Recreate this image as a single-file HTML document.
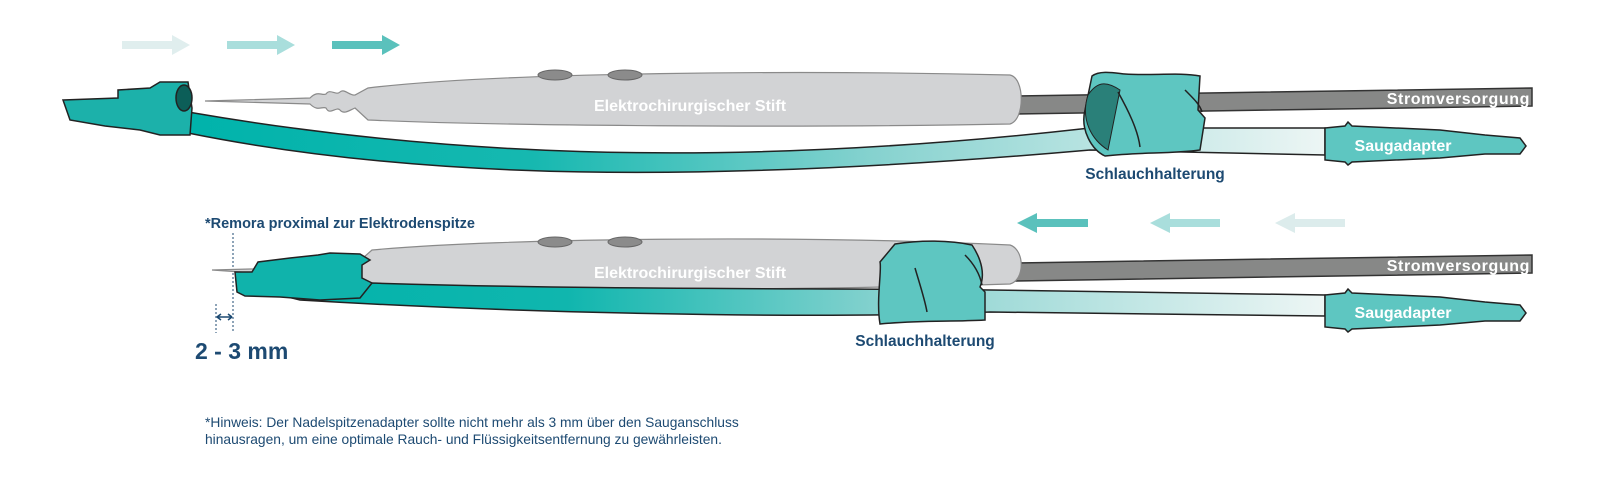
<!DOCTYPE html>
<html><head><meta charset="utf-8"><style>
html,body{margin:0;padding:0;background:#fff;}
svg{display:block;}
text{font-family:"Liberation Sans",sans-serif;}
</style></head><body>
<svg width="1600" height="483" viewBox="0 0 1600 483" xmlns="http://www.w3.org/2000/svg">
<defs>
<linearGradient id="tg1" x1="190" y1="0" x2="1330" y2="0" gradientUnits="userSpaceOnUse">
<stop offset="0" stop-color="#00b3ab"/><stop offset="0.3" stop-color="#16b8b0"/><stop offset="0.6" stop-color="#86d2cf"/><stop offset="1" stop-color="#eef6f5"/></linearGradient>
<linearGradient id="tg2" x1="240" y1="0" x2="1330" y2="0" gradientUnits="userSpaceOnUse">
<stop offset="0" stop-color="#00b3ab"/><stop offset="0.3" stop-color="#10b6ae"/><stop offset="0.6" stop-color="#8ad3d0"/><stop offset="1" stop-color="#eef6f5"/></linearGradient>
</defs>

<path d="M122,41 H172 V35 L190,45 L172,55 V49 H122 Z" fill="#e0eeee"/>
<path d="M227,41 H277 V35 L295,45 L277,55 V49 H227 Z" fill="#a9dedc"/>
<path d="M332,41 H382 V35 L400,45 L382,55 V49 H332 Z" fill="#5ac1bc"/>

<path d="M1015,96 L1532,88 L1532,106 L1015,114 Z" fill="#878887" stroke="#333" stroke-width="1.5"/>
<path d="M205,101 L310,98 C318,90 322,96 326,94 C330,88 336,96 340,92 C344,88 350,96 355,95 L368,88 C500,72 800,70 1010,75 C1025,78 1025,120 1010,124 C800,128 500,126 368,120 L355,108 C350,110 344,115 340,110 C336,106 330,116 326,108 C322,106 318,112 310,104 Z" fill="#d2d3d5" stroke="#8a8a8a" stroke-width="1.2"/>
<ellipse cx="555" cy="75" rx="17" ry="5" fill="#8b8b8b" stroke="#666"/>
<ellipse cx="625" cy="75" rx="17" ry="5" fill="#8b8b8b" stroke="#666"/>
<text x="690" y="111" fill="#fff" font-size="16" font-weight="bold" text-anchor="middle">Elektrochirurgischer Stift</text>
<path d="M188,112 C420,152 700,172 1090,128 L1325,128 L1325,155 L1090,150 C700,184 420,180 188,133 Z" fill="url(#tg1)" stroke="#222" stroke-width="1.5"/>
<path d="M63,100 L118,98 L118,90 L150,88 L160,82 L188,82 L192,108 L190,135 L160,135 L140,130 L105,126 L70,120 Z" fill="#1cb1aa" stroke="#222" stroke-width="1.5"/>
<ellipse cx="184" cy="98" rx="8" ry="13" fill="#0c5e58" stroke="#222" stroke-width="1.5"/>
<path d="M1092,76 C1100,70 1115,73 1125,74 C1150,76 1180,72 1200,76 L1198,110 L1205,118 L1200,150 C1170,154 1140,152 1105,156 C1092,150 1080,130 1085,110 Z" fill="#5ec6c1" stroke="#222" stroke-width="1.5"/>
<path d="M1088,95 C1098,80 1108,82 1120,90 L1108,150 C1092,140 1080,120 1088,95 Z" fill="#2a8079" stroke="#222" stroke-width="1"/>
<path d="M1118,92 C1128,110 1138,130 1140,147" stroke="#222" stroke-width="1.5" fill="none"/>
<path d="M1185,90 C1195,100 1200,105 1202,112" stroke="#222" stroke-width="1.5" fill="none"/>
<path d="M1325,128 L1345,126 L1348,122 L1352,126 L1440,130 L1485,135 L1520,138 L1526,146 L1520,154 L1485,154 L1440,158 L1352,162 L1348,165 L1345,162 L1325,160 Z" fill="#5ec6c1" stroke="#222" stroke-width="1.5"/>
<text x="1403" y="151" fill="#fff" font-size="16" font-weight="bold" text-anchor="middle">Saugadapter</text>
<text x="1530" y="104" fill="#fff" font-size="16" font-weight="bold" text-anchor="end" letter-spacing="0.6">Stromversorgung</text>
<text x="1155" y="179" fill="#1d4a72" font-size="15.5" font-weight="bold" text-anchor="middle">Schlauchhalterung</text>

<path d="M1088,219 H1037 V213 L1017,223 L1037,233 V227 H1088 Z" fill="#5ac1bc"/>
<path d="M1220,219 H1170 V213 L1150,223 L1170,233 V227 H1220 Z" fill="#a9dedc"/>
<path d="M1345,219 H1295 V213 L1275,223 L1295,233 V227 H1345 Z" fill="#dcecec"/>

<text x="205" y="228" fill="#1d4a72" font-size="14.5" font-weight="bold">*Remora proximal zur Elektrodenspitze</text>
<line x1="233" y1="233" x2="233" y2="333" stroke="#1d4a72" stroke-width="1" stroke-dasharray="2,2"/>
<line x1="216" y1="304" x2="216" y2="333" stroke="#1d4a72" stroke-width="1" stroke-dasharray="2,2"/>
<path d="M217,317 H232 M217,317 l4,-3 M217,317 l4,3 M232,317 l-4,-3 M232,317 l-4,3" stroke="#1d4a72" stroke-width="1.5" fill="none"/>
<text x="195" y="359" fill="#1d4a72" font-size="23" font-weight="bold">2 - 3 mm</text>

<path d="M1015,263 L1532,255 L1532,273 L1015,281 Z" fill="#878887" stroke="#333" stroke-width="1.5"/>
<path d="M212,270 L250,269 L355,265 L372,250 C500,238 800,235 1010,245 C1025,250 1025,280 1010,284 C800,290 500,292 372,286 L355,280 Z" fill="#d2d3d5" stroke="#8a8a8a" stroke-width="1.2"/>
<ellipse cx="555" cy="242" rx="17" ry="5" fill="#8b8b8b" stroke="#666"/>
<ellipse cx="625" cy="242" rx="17" ry="5" fill="#8b8b8b" stroke="#666"/>
<text x="690" y="278" fill="#fff" font-size="16" font-weight="bold" text-anchor="middle">Elektrochirurgischer Stift</text>
<path d="M240,285 L370,283 C600,290 800,288 990,290 L1325,295 L1325,316 L990,312 C800,320 500,312 300,300 Z" fill="url(#tg2)" stroke="#222" stroke-width="1.5"/>
<path d="M235,272 L252,272 L258,262 L290,258 L318,255 L330,253 L360,254 L370,260 L362,265 L362,278 L372,283 L360,298 L320,300 L280,297 L245,296 L237,292 Z" fill="#10b3ab" stroke="#222" stroke-width="1.5"/>
<path d="M895,244 C920,240 950,240 972,245 C982,260 985,275 980,287 L985,292 L985,320 C950,322 920,320 880,324 C876,300 882,270 880,262 Z" fill="#5ec6c1" stroke="#222" stroke-width="1.5"/>
<path d="M915,268 C920,285 925,300 927,312" stroke="#222" stroke-width="1.5" fill="none"/>
<path d="M965,255 C975,265 980,275 982,285" stroke="#222" stroke-width="1.5" fill="none"/>
<path d="M1325,295 L1345,293 L1348,289 L1352,293 L1440,297 L1485,302 L1520,305 L1526,313 L1520,321 L1485,321 L1440,325 L1352,329 L1348,332 L1345,329 L1325,327 Z" fill="#5ec6c1" stroke="#222" stroke-width="1.5"/>
<text x="1403" y="318" fill="#fff" font-size="16" font-weight="bold" text-anchor="middle">Saugadapter</text>
<text x="1530" y="271" fill="#fff" font-size="16" font-weight="bold" text-anchor="end" letter-spacing="0.6">Stromversorgung</text>
<text x="925" y="346" fill="#1d4a72" font-size="15.5" font-weight="bold" text-anchor="middle">Schlauchhalterung</text>

<text x="205" y="427" fill="#1d4a72" font-size="13.8">*Hinweis: Der Nadelspitzenadapter sollte nicht mehr als 3 mm über den Sauganschluss</text>
<text x="205" y="444" fill="#1d4a72" font-size="13.8">hinausragen, um eine optimale Rauch- und Flüssigkeitsentfernung zu gewährleisten.</text>
</svg>
</body></html>
